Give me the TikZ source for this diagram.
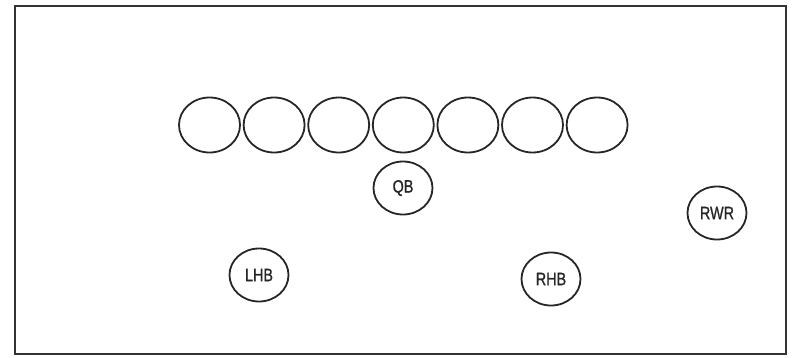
\documentclass[tikz,border=0pt]{standalone}
\usepackage{fontspec}
\usepackage{graphicx}
\usetikzlibrary{shapes.geometric}
\setmainfont{Liberation Sans}
\newfontfamily\labfont[FakeBold=1.2]{Liberation Sans}
\begin{document}
\begin{tikzpicture}[x=1pt,y=-1pt,
  player/.style={draw=black!85,line width=1.8pt,ellipse,minimum width=61pt,minimum height=55pt,inner sep=0pt},
  back/.style={draw=black!85,line width=1.8pt,ellipse,minimum width=59pt,minimum height=53pt,inner sep=0pt,text=black!85,font=\labfont\fontsize{18}{18}\selectfont}]
\useasboundingbox (0,0) rectangle (793,357);
\draw[line width=2pt,black!80] (15,6) rectangle (786,354);
\foreach \i in {0,...,6}{
  \node[player] (l\i) at ({209.5+64.6*\i},125) {};
}
\node[back] (qb) at (403,188) {\scalebox{0.8}[1]{QB}};
\node[back] (lhb) at (259,275) {\scalebox{0.8}[1]{LHB}};
\node[back] (rhb) at (551,279) {\scalebox{0.8}[1]{RHB}};
\node[back] (rwr) at (717,213) {\scalebox{0.8}[1]{RWR}};
\end{tikzpicture}
\end{document}
